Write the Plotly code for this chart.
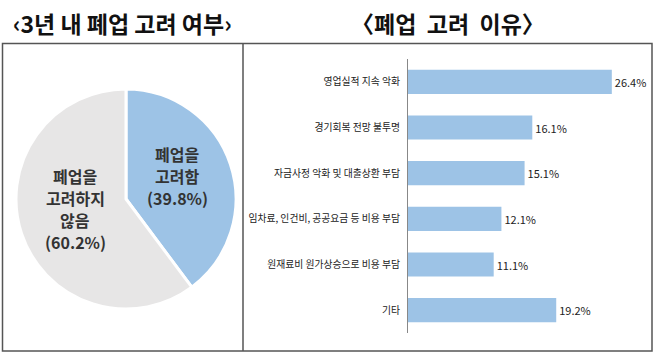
import plotly.graph_objects as go

# ---- data ----
pie_labels = ["폐업을<br>고려함", "폐업을<br>고려하지<br>않음"]
pie_values = [39.8, 60.2]
pie_colors = ["#9DC3E6", "#E7E6E6"]

reasons = ["영업실적 지속 악화", "경기회복 전망 불투명", "자금사정 악화 및 대출상환 부담",
           "임차료, 인건비, 공공요금 등 비용 부담", "원재료비 원가상승으로 비용 부담", "기타"]
reason_values = [26.4, 16.1, 15.1, 12.1, 11.1, 19.2]

title_left = "‹3년 내 폐업 고려 여부›"
title_right = "〈폐업\u00a0 고려\u00a0 이유〉"

W, H = 658, 355
FONT = "Noto Sans CJK KR"

def px(x):
    return x / W

def py(y):
    return 1 - y / H

fig = go.Figure()

fig.add_trace(go.Pie(
    labels=pie_labels, values=pie_values, sort=False, direction="clockwise",
    rotation=0, marker=dict(colors=pie_colors, line=dict(color="white", width=3)),
    textinfo="none", hoverinfo="label+percent", showlegend=False,
    domain=dict(x=[px(16), px(236)], y=[py(309), py(89)]),
))

fig.add_trace(go.Bar(
    x=reason_values, y=reasons, orientation="h",
    marker=dict(color="#9DC3E6", line=dict(width=0)),
    texttemplate="%{x:.1f}%", textposition="outside",
    textfont=dict(family=FONT, size=11, color="#222"),
    cliponaxis=False, showlegend=False, xaxis="x", yaxis="y",
))

annotations = [
    dict(text=f"<b>{title_left}</b>", x=px(122), y=py(23), xref="paper", yref="paper",
         showarrow=False, font=dict(family=FONT, size=23, color="#111"), xanchor="center", yanchor="middle"),
    dict(text=f"<b>{title_right}</b>", x=px(448), y=py(23), xref="paper", yref="paper",
         showarrow=False, font=dict(family=FONT, size=23, color="#111"), xanchor="center", yanchor="middle"),
]
# pie labels, one annotation per line
pie_text_pos = [(177, 176), (75, 209)]
LINE = 22
for lab, val, (tx, ty) in zip(pie_labels, pie_values, pie_text_pos):
    lines = lab.split("<br>") + [f"({val:.1f}%)"]
    n = len(lines)
    for i, ln in enumerate(lines):
        yy = ty + (i - (n - 1) / 2) * LINE
        annotations.append(dict(
            text=f"<b>{ln}</b>", x=px(tx), y=py(yy), xref="paper", yref="paper",
            showarrow=False, font=dict(family=FONT, size=16, color="#333"),
            xanchor="center", yanchor="middle", align="center"))

shapes = [
    dict(type="rect", xref="paper", yref="paper", x0=px(2.5), x1=px(652), y0=py(351), y1=py(43.5),
         line=dict(color="#555", width=1.5)),
    dict(type="line", xref="paper", yref="paper", x0=px(243), x1=px(243), y0=py(351), y1=py(43.5),
         line=dict(color="#555", width=1.5)),
]

fig.update_layout(
    width=W, height=H, margin=dict(l=0, r=0, t=0, b=0),
    paper_bgcolor="white", plot_bgcolor="white",
    font=dict(family=FONT, color="#222"),
    bargap=0.47,
    xaxis=dict(domain=[px(408), px(640)], range=[0, 30.05], visible=False),
    yaxis=dict(domain=[py(333), py(59)], autorange="reversed", showline=True,
               linecolor="#888", linewidth=1, showgrid=False, zeroline=False, ticks="",
               tickfont=dict(family=FONT, size=9.8, color="#222"), ticklabelstandoff=5),
    annotations=annotations, shapes=shapes,
)

fig.write_html("out.html")
